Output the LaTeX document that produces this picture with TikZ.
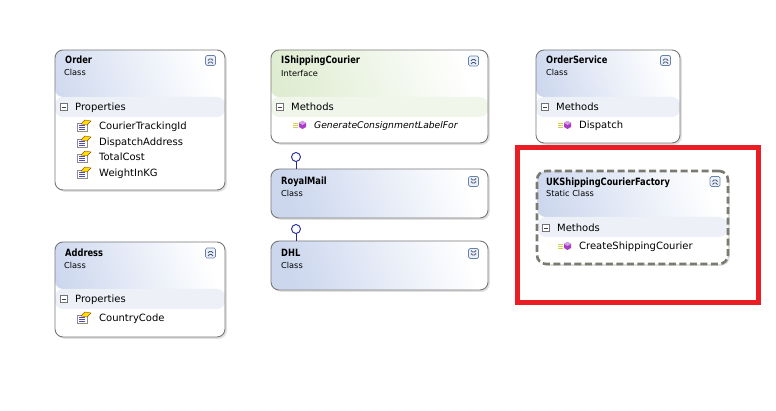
\documentclass[tikz,border=0pt]{standalone}
\usepackage{fontspec}
\setmainfont{DejaVu Sans}
\newfontfamily\titlefont[FakeStretch=0.83]{DejaVu Sans}
\usetikzlibrary{shadows,positioning}

\definecolor{edgegray}{RGB}{120,120,120}
\definecolor{hdrblue}{RGB}{204,215,238}
\definecolor{bandblue}{RGB}{237,240,247}
\definecolor{hdrgreen}{RGB}{222,236,208}
\definecolor{bandgreen}{RGB}{241,246,234}
\definecolor{hlred}{RGB}{234,28,36}
\definecolor{dashgray}{RGB}{122,122,114}
\definecolor{lollyblue}{RGB}{40,40,150}
\definecolor{methpurple}{RGB}{170,60,200}
\definecolor{tgblue}{RGB}{100,130,175}

\tikzset{
  umlbox/.style n args={3}{draw=edgegray, line width=0.9pt, rounded corners=8pt, fill=white, inner sep=0pt,
    drop shadow={shadow xshift=1.8pt, shadow yshift=-1.8pt, fill=black!12, opacity=1},
    path picture={
      \shade[top color=white, bottom color=#1, shading angle=-70]
        (path picture bounding box.north west) rectangle ([yshift=-#3pt]path picture bounding box.north east);
      \fill[#2] ([yshift=-#3pt]path picture bounding box.north west) rectangle ([yshift=-#3pt-20pt]path picture bounding box.north east);
    }},
  staticbox/.style={umlbox={hdrblue}{bandblue}{46}, draw=dashgray, line width=2.6pt,
    dash pattern=on 7pt off 3.5pt, rounded corners=9pt},
  title/.style={anchor=west, inner sep=0pt, text height=7pt, text depth=2pt, yshift=-1.5pt,
    font=\titlefont\bfseries\fontsize{10}{11}\selectfont},
  kind/.style={anchor=west, inner sep=0pt, text height=6pt, text depth=2pt, yshift=-1pt,
    font=\fontsize{8.2}{9}\selectfont},
  member/.style={anchor=west, inner sep=0pt, text height=7pt, text depth=2pt, yshift=-1.5pt,
    font=\fontsize{10}{11}\selectfont},
  togglebox/.style={draw=tgblue, fill=bandblue, rounded corners=1.5pt, line width=0.7pt,
    minimum size=10pt, inner sep=0pt},
  toggleup/.style={togglebox, path picture={
      \draw[tgblue!70!black, line width=0.8pt] ([shift={(-2.5,0)}]path picture bounding box.center) -- ++(2.5,-2.5) -- ++(2.5,2.5);
      \draw[tgblue!70!black, line width=0.8pt] ([shift={(-2.5,3)}]path picture bounding box.center) -- ++(2.5,-2.5) -- ++(2.5,2.5);
    }},
  toggledown/.style={togglebox, path picture={
      \draw[tgblue!70!black, line width=0.8pt] ([shift={(-2.5,-3)}]path picture bounding box.center) -- ++(2.5,2.5) -- ++(2.5,-2.5);
      \draw[tgblue!70!black, line width=0.8pt] ([shift={(-2.5,0)}]path picture bounding box.center) -- ++(2.5,2.5) -- ++(2.5,-2.5);
    }},
  minusbox/.style={draw=black!55, fill=white, minimum size=7.5pt, inner sep=0pt, line width=0.6pt,
    path picture={\draw[black!75, line width=0.8pt] ([xshift=-2pt]path picture bounding box.center) -- ([xshift=2pt]path picture bounding box.center);}},
  lolly/.style={circle, draw=lollyblue, fill=white, line width=0.9pt, minimum size=9pt, inner sep=0pt},
  lollyline/.style={draw=lollyblue, line width=0.9pt},
  pics/propicon/.style={code={
      \fill[white, draw=black!45, line width=0.5pt] (-7,-3) rectangle (3,5);
      \draw[blue!40!gray, line width=0.6pt] (-5,-0.5) -- (1,-0.5) (-5,1.5) -- (1,1.5) (-5,3.5) -- (1,3.5);
      \fill[yellow!85!orange, draw=orange!60!black, line width=0.4pt] (-3,-2) -- (1,-6) -- (7,-5) -- (3,-1) -- cycle;
    }},
  pics/methicon/.style={code={
      \draw[yellow!60!gray, line width=0.7pt] (-8,-2) -- (-3,-2) (-8,0) -- (-3,0) (-8,2) -- (-3,2);
      \fill[methpurple] (-2,-2) -- (1.5,-4) -- (5,-2) -- (5,2) -- (1.5,4) -- (-2,2) -- cycle;
      \fill[methpurple!50!white] (-2,-2) -- (1.5,-4) -- (5,-2) -- (1.5,0) -- cycle;
    }},
}

\begin{document}
\begin{tikzpicture}[x=1pt, y=-1pt]
\useasboundingbox[fill=white] (0,0) rectangle (776,411);

% Order
\node (order) at (140,120) [umlbox={hdrblue}{bandblue}{47}, minimum width=170pt, minimum height=140pt] {};
\node (order-t) at (65,60) [title] {Order};
\node (order-k) at (64,73) [kind] {Class};
\node (order-tg) at (210.5,60.5) [toggleup] {};
\node (order-mb) at (64,107) [minusbox] {};
\node (order-c) at (75,107) [member] {Properties};
\pic at (84,126) {propicon};
\node (order-p1) at (99,126) [member] {CourierTrackingId};
\pic at (84,142) {propicon};
\node (order-p2) at (99,142) [member] {DispatchAddress};
\pic at (84,157) {propicon};
\node (order-p3) at (99,157) [member] {TotalCost};
\pic at (84,173) {propicon};
\node (order-p4) at (99,173) [member] {WeightInKG};

% Address
\node (addr) at (140,289.5) [umlbox={hdrblue}{bandblue}{47}, minimum width=170pt, minimum height=95pt] {};
\node (addr-t) at (65,253) [title] {Address};
\node (addr-k) at (64,266) [kind] {Class};
\node (addr-tg) at (210.5,253) [toggleup] {};
\node (addr-mb) at (64,299) [minusbox] {};
\node (addr-c) at (75,299) [member] {Properties};
\pic at (84,318) {propicon};
\node (addr-p1) at (99,318) [member] {CountryCode};

% IShippingCourier
\node (courier) at (379.5,96.5) [umlbox={hdrgreen}{bandgreen}{47}, minimum width=217pt, minimum height=93pt] {};
\node (courier-t) at (281,60) [title] {IShippingCourier};
\node (courier-k) at (281,74) [kind] {Interface};
\node (courier-tg) at (473.5,61) [toggleup] {};
\node (courier-mb) at (280,107) [minusbox] {};
\node (courier-c) at (291,107) [member] {Methods};
\pic at (301,125) {methicon};
\node (courier-m1) at (314,125) [member, font=\itshape\fontsize{9.2}{10}\selectfont] {GenerateConsignmentLabelFor};

% RoyalMail
\node (royal) at (379.5,193.5) [umlbox={hdrblue}{white}{49}, minimum width=217pt, minimum height=49pt] {};
\node (royal-t) at (281,181) [title] {RoyalMail};
\node (royal-k) at (281,194) [kind] {Class};
\node (royal-tg) at (473.5,181.5) [toggledown] {};
\node (royal-lolly) at (296,157) [lolly] {};
\draw[lollyline] (royal-lolly) -- (royal-lolly |- royal.north);

% DHL
\node (dhl) at (379.5,265.5) [umlbox={hdrblue}{white}{49}, minimum width=217pt, minimum height=49pt] {};
\node (dhl-t) at (281,253) [title] {DHL};
\node (dhl-k) at (281,266) [kind] {Class};
\node (dhl-tg) at (473.5,253.5) [toggledown] {};
\node (dhl-lolly) at (296,229) [lolly] {};
\draw[lollyline] (dhl-lolly) -- (dhl-lolly |- dhl.north);

% OrderService
\node (service) at (608,96.5) [umlbox={hdrblue}{bandblue}{47}, minimum width=144pt, minimum height=93pt] {};
\node (service-t) at (546,60) [title] {OrderService};
\node (service-k) at (546,73) [kind] {Class};
\node (service-tg) at (665.5,60.5) [toggleup] {};
\node (service-mb) at (545,107) [minusbox] {};
\node (service-c) at (556,107) [member] {Methods};
\pic at (566,125) {methicon};
\node (service-m1) at (579,125) [member] {Dispatch};

% UKShippingCourierFactory
\node (factory) at (632.5,217.5) [staticbox, minimum width=191pt, minimum height=93pt] {};
\node (factory-t) at (546,182) [title] {UKShippingCourierFactory};
\node (factory-k) at (546,194) [kind] {Static Class};
\node (factory-tg) at (715,181.5) [toggleup] {};
\node (factory-mb) at (546,228) [minusbox] {};
\node (factory-c) at (557,228) [member] {Methods};
\pic at (566,246) {methicon};
\node (factory-m1) at (579,246) [member] {CreateShippingCourier};

% highlight
\node (mark) at (638,225.25) [draw=hlred, line width=5pt, minimum width=241pt, minimum height=155.5pt, inner sep=0pt] {};
\end{tikzpicture}
\end{document}
